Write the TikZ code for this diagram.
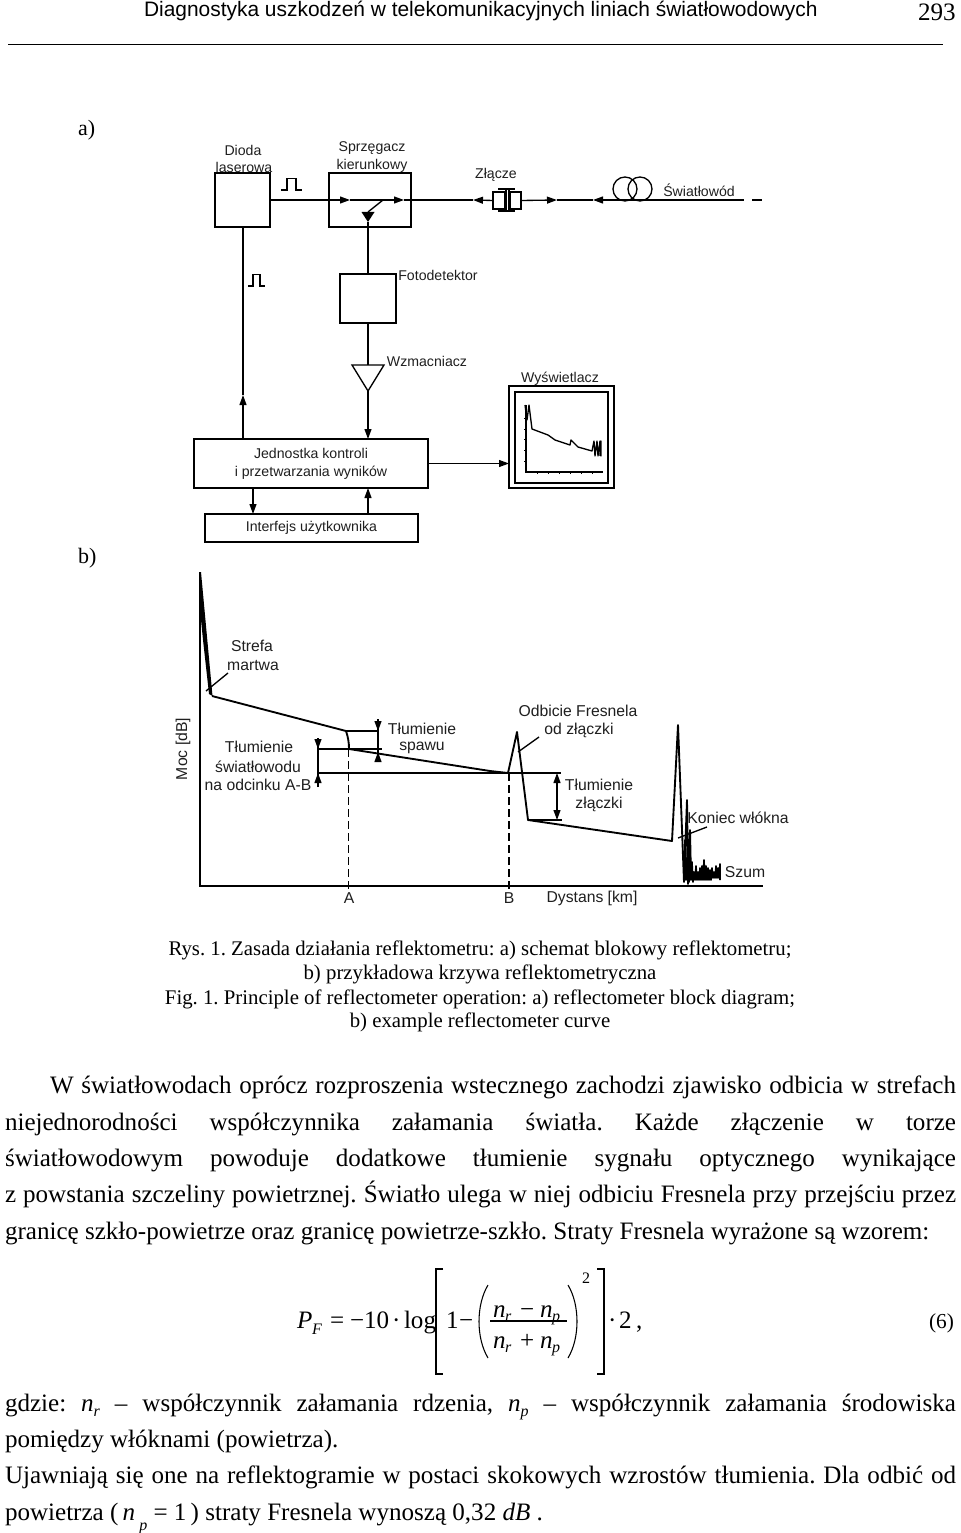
\documentclass[tikz,border=0pt]{standalone}
\usepackage{fontspec}
\setmainfont{Liberation Serif}
\setsansfont{Liberation Sans}
\usetikzlibrary{arrows.meta}
\frenchspacing
\newcommand{\bodyfont}{\fontsize{18.8}{22}\selectfont}
\newcommand{\capfont}{\fontsize{15.6}{18}\selectfont}
\newcommand{\lblfont}{\fontsize{10.6}{12.5}\selectfont\sffamily}
\newcommand{\lblbfont}{\fontsize{11.8}{14}\selectfont\sffamily}
\newcommand{\idxfont}{\fontsize{12}{13}\selectfont}
\newcommand{\bodyline}[5]{\node[plaintext,font=\bodyfont] (#1) at (#2,#3) {\makebox[\dimexpr #4pt*3/4\relax][s]{#5}};}
\newcommand{\plainline}[4]{\node[plaintext,font=\bodyfont] (#1) at (#2,#3) {#4};}
\newcommand{\capline}[3]{\node[anchor=base,inner sep=0pt,font=\capfont] (#1) at (480,#2) {#3};}
\newcommand{\lowidx}[1]{\raisebox{-0.22em}{\idxfont\textit{#1}}}
\tikzset{
 x=0.75pt,y=-0.75pt,
 plaintext/.style={anchor=base west,inner sep=0pt,outer sep=0pt},
 lbl/.style={inner sep=0pt,font=\lblfont,text=black!88},
 lblb/.style={inner sep=0pt,font=\lblbfont,text=black!88},
 blockbox/.style={draw,line width=1pt,inner sep=0pt,outer sep=0pt,fill=white},
 wire/.style={line width=1pt},
 tip/.style={line width=1pt,-{Triangle[length=7.5pt,width=5.2pt]}},
 curve/.style={line width=1.4pt,line join=round},
 thin wire/.style={line width=0.8pt},
}
\begin{document}
\begin{tikzpicture}
\useasboundingbox[fill=white] (0,0) rectangle (960,1533);
% header
\node[plaintext,font=\fontsize{15.7}{18}\selectfont\sffamily] (hdr) at (144,17) {Diagnostyka uszkodzeń w telekomunikacyjnych liniach światłowodowych};
\node[plaintext,font=\bodyfont] (pageno) at (918,21) {293};
\coordinate (ruleA) at (8,44); \coordinate (ruleB) at (943,44);
\draw[line width=0.6pt] (ruleA) -- (ruleB);
\node[plaintext,font=\fontsize{16.5}{18}\selectfont] (la) at (78,136) {a)};
\node[plaintext,font=\fontsize{16.5}{18}\selectfont] (lb) at (78,563) {b)};

% ---- block diagram a)
\node[blockbox,minimum width=41.25pt,minimum height=40.5pt] (dioda) at (242.5,200) {};
\node[blockbox,minimum width=61.5pt,minimum height=40.5pt] (sprz) at (370,200) {};
\node[blockbox,minimum width=42pt,minimum height=36.75pt] (foto) at (368,298.5) {};
\node[blockbox,minimum width=175.5pt,minimum height=36.75pt,align=center,font=\lblfont,text=black!88] (jedn) at (311,463.5) {Jednostka kontroli\\[1pt]i przetwarzania wyników};
\node[blockbox,minimum width=159.75pt,minimum height=21pt,font=\lblfont,text=black!88] (inter) at (311.5,528) {Interfejs użytkownika};
\node[blockbox,minimum width=78.75pt,minimum height=76.5pt] (disp) at (561.5,437) {};
\node[blockbox,minimum width=69.75pt,minimum height=68.25pt] (dispin) at (561.5,437.5) {};
\coordinate (wzTL) at (352,365); \coordinate (wzTR) at (384,365); \coordinate (wzTip) at (368,391); \coordinate (wzTop) at (368,365);
\draw[wire,line join=miter] (wzTL) -- (wzTR) -- (wzTip) -- cycle;

\node[lbl] (t1) at (243,150) {Dioda};
\node[lbl] (t2) at (244,167) {laserowa};
\node[lbl] (t3) at (372,148) {Sprzęgacz};
\node[lbl] (t4) at (372,166) {kierunkowy};
\node[lbl] (t5) at (496,175) {Złącze};
\node[lbl] (t6) at (699,190) {Światłowód};
\node[lbl] (t7) at (438,275) {Fotodetektor};
\node[lbl] (t8) at (427,361) {Wzmacniacz};
\node[lbl] (t9) at (560,379) {Wyświetlacz};

% main fibre line
\coordinate (mA) at (350,200); \coordinate (swR) at (383,200);
\coordinate (mB) at (404,200); \coordinate (mC) at (473,200);
\node[blockbox,minimum width=9pt,minimum height=12.75pt] (zl1) at (499,200.5) {};
\node[blockbox,minimum width=8.25pt,minimum height=12.75pt] (zl2) at (515.5,200.5) {};
\coordinate (mD) at (557,200); \coordinate (mE) at (593,200); \coordinate (mF) at (735,200); \coordinate (mG) at (767,200);
\draw[tip] (dioda.east) -- (mA);
\draw[tip] (mA) -- (mB);
\draw[wire] (mB) -- (sprz.east) -- (mC);
\draw[tip] (zl1.west) -- (mC);
\draw[tip] (zl2.east) -- (mD);
\draw[wire] (mD) -- (mE);
\draw[tip] (mF) -- (mE);
\draw[line width=0.8pt,dash pattern=on 7pt off 6pt] (mF) -- (mG);
% connector body
\coordinate (hA) at (498,189); \coordinate (hB) at (515,189); \coordinate (hC) at (498,211); \coordinate (hD) at (515,211);
\coordinate (vA) at (506,189); \coordinate (vB) at (506,211); \coordinate (vC) at (509,189); \coordinate (vD) at (509,211);
\draw[wire] (hA) -- (hB) (hC) -- (hD) (vA) -- (vB) (vC) -- (vD);
% coil
\draw[wire] (625,189) circle (12);
\draw[wire] (640,189) circle (12);
% switch and detector
\coordinate (swL) at (368,212); \coordinate (swT) at (368,222);
\draw[wire] (swR) -- (swL);
\draw[wire] (foto.north) -- (swT);
\fill (361.5,212) -- (374.5,212) -- (368,222) -- cycle;
\draw[wire] (foto.south) -- (wzTop);
% lower connectors
\coordinate (upTip) at (243,395);
\draw[tip] (jedn.north -| upTip) -- (upTip);
\draw[wire] (upTip) -- (dioda.south -| upTip);
\draw[tip] (wzTip) -- (jedn.north -| wzTip);
\coordinate (d1) at (253,514); \coordinate (d2) at (368,488);
\draw[tip] (jedn.south -| d1) -- (d1);
\draw[tip] (inter.north -| d2) -- (d2);
\draw[tip] (jedn.east) -- (disp.west |- jedn.east);
% pulses
\draw[thin wire] (281,190) -- (287,190) -- (287,178.5) -- (296,178.5) -- (296,190) -- (302,190);
\draw[thin wire] (248,286) -- (253,286) -- (253,274.5) -- (260,274.5) -- (260,286) -- (265,286);
% display plot
\draw[thin wire] (526,405) -- (526,472) -- (603,472);
\foreach \yy in {418,429,439,450,461} \draw[line width=0.6pt] (524,\yy) -- (526,\yy);
\foreach \xx in {537,548,559,570,581,592} \draw[line width=0.6pt] (\xx,472) -- (\xx,474);
\draw[line width=1pt,line join=round] (525,405) -- (527,420) -- (529,405) -- (532,429) -- (548,435) -- (555,440) -- (570,445) -- (571,440) -- (578,447) -- (592,451) -- (594,441) -- (595,456) -- (597,441) -- (598,456) -- (600,441) -- (601,456) -- (601,441) -- (600,456);

% ---- curve b)
\coordinate (ax0) at (200,886); \coordinate (axT) at (200,572); \coordinate (axR) at (763,886);
\draw[line width=1.2pt] (axT) -- (ax0) -- (axR);
\fill (199.5,572) -- (201,572) -- (212.5,696) -- (209,694) -- (203,640) -- (200,610) -- cycle;
\draw[curve] (212,696) -- (346,731) .. controls (348,737) and (349,742) .. (349,749) -- (490,771) -- (508,773) -- (517,732) -- (528,820) -- (672,841) -- (678,725) -- (684,882) -- (687,800) -- (688,884) -- (690,830) -- (691,880);
\draw[line width=1.2pt,line join=round] (684,882) -- (685,840) -- (686,880) -- (688,845) -- (689,882) -- (690,850) -- (691,880) -- (692,862) -- (693,882) -- (694,872) -- (695,880) -- (696,866) -- (697,880) -- (698,872) -- (699,880) -- (700,868) -- (701,880) -- (702,866) -- (703,880) -- (704,860) -- (705,880) -- (706,866) -- (707,880) -- (708,868) -- (709,880) -- (710,870) -- (711,880) -- (712,868) -- (713,878) -- (714,872) -- (715,878) -- (716,866) -- (717,878) -- (718,868) -- (719,878) -- (720,864) -- (720,880);
% levels
\coordinate (sp1) at (346,731); \coordinate (sp2) at (378,731);
\coordinate (sp3) at (318,749); \coordinate (sp4) at (382,749);
\coordinate (sp5) at (318,773); \coordinate (sp6) at (508,773);
\draw[wire] (sp1) -- (sp2) (sp3) -- (sp4) (sp5) -- (sp6);
\coordinate (a1) at (318,738); \coordinate (a2) at (318,787);
\coordinate (b1) at (378,719); \coordinate (b2) at (378,761);
\draw[wire] (a1) -- (a2);
\draw[wire] (b1) -- (b2);
\draw[tip] (a1) -- (sp3);
\draw[tip] (a2) -- (sp5);
\draw[tip] (b1) -- (sp2);
\coordinate (b3) at (378,752);
\draw[tip] (b2) -- (b3);
% dashed verticals
\coordinate (dA) at (348.5,749); \coordinate (dAb) at (348.5,889);
\coordinate (dB) at (509,773); \coordinate (dBb) at (509,889);
\draw[line width=0.8pt,dash pattern=on 6pt off 3pt] (dA) -- (dAb);
\draw[line width=0.8pt,dash pattern=on 6pt off 3pt] (dB) -- (dBb);
% leaders
\draw[wire] (206,691) -- (228,673);
\draw[wire] (518,752) -- (539,737);
\draw[wire] (678,838) -- (707,827);
% junction loss
\coordinate (z1) at (508,773); \coordinate (z2) at (561,773); \coordinate (z3) at (528,820); \coordinate (z4) at (562,820);
\coordinate (zu) at (557,773); \coordinate (zd) at (557,820); \coordinate (zm) at (557,796);
\draw[wire] (z1) -- (z2) (z3) -- (z4);
\draw[tip] (zm) -- (zu);
\draw[tip] (zm) -- (zd);
% labels b)
\node[lblb] (s1) at (252,646) {Strefa};
\node[lblb] (s2) at (253,665) {martwa};
\node[lblb] (s3) at (422,729) {Tłumienie};
\node[lblb] (s4) at (422,748) {spawu};
\node[lblb] (s5) at (259,747) {Tłumienie};
\node[lblb] (s6) at (258,767) {światłowodu};
\node[lblb] (s7) at (258,785) {na odcinku A-B};
\node[lblb,rotate=90] (s8) at (183,749) {Moc [dB]};
\node[lblb] (s9) at (349,898) {A};
\node[lblb] (s10) at (509,898) {B};
\node[lblb] (s11) at (592,898) {Dystans [km]};
\node[lblb] (s12) at (745,872) {Szum};
\node[lblb] (s13) at (738,818) {Koniec włókna};
\node[lblb] (s14) at (578,711) {Odbicie Fresnela};
\node[lblb] (s15) at (579,730) {od złączki};
\node[lblb] (s16) at (599,785) {Tłumienie};
\node[lblb] (s17) at (599,804) {złączki};

% ---- captions
\capline{c1}{955}{Rys. 1. Zasada działania reflektometru: a) schemat blokowy reflektometru;}
\capline{c2}{979}{b) przykładowa krzywa reflektometryczna}
\capline{c3}{1004}{Fig. 1. Principle of reflectometer operation: a) reflectometer block diagram;}
\capline{c4}{1027}{b) example reflectometer curve}

% ---- body
\bodyline{b1}{50}{1093}{906}{W światłowodach oprócz rozproszenia wstecznego zachodzi zjawisko odbicia w strefach}
\bodyline{b2}{5}{1130}{951}{niejednorodności współczynnika załamania światła. Każde złączenie w torze}
\bodyline{b3}{5}{1166}{951}{światłowodowym powoduje dodatkowe tłumienie sygnału optycznego wynikające}
\bodyline{b4}{5}{1202}{951}{z powstania szczeliny powietrznej. Światło ulega w niej odbiciu Fresnela przy przejściu przez}
\plainline{b5}{5}{1239}{granicę szkło-powietrze oraz granicę powietrze-szkło. Straty Fresnela wyrażone są wzorem:}
\bodyline{b6}{5}{1411}{951}{gdzie: \textit{n}\lowidx{r} – współczynnik załamania rdzenia, \textit{n}\lowidx{p} – współczynnik załamania środowiska}
\plainline{b7}{5}{1447}{pomiędzy włóknami (powietrza).}
\bodyline{b8}{5}{1483}{951}{Ujawniają się one na reflektogramie w postaci skokowych wzrostów tłumienia. Dla odbić od}
\plainline{b9}{5}{1520}{powietrza (\,\textit{n}\,\raisebox{-0.4em}{\idxfont\textit{p}} = 1\,) straty Fresnela wynoszą 0,32 \textit{dB} .}

% ---- formula
\plainline{f1}{297}{1328}{\textit{P}}
\node[plaintext,font=\idxfont\itshape] (f2) at (312,1334) {F};
\plainline{f3}{330}{1328}{=}
\plainline{f4}{350}{1328}{−10}
\plainline{f5}{392}{1328}{·}
\plainline{f6}{404}{1328}{log}
\plainline{f7}{446}{1328}{1}
\plainline{f8}{459}{1328}{−}
\plainline{f9}{493}{1317}{\textit{n}}
\node[plaintext,font=\idxfont\itshape] (f10) at (505,1321) {r};
\plainline{f11}{520}{1317}{−}
\plainline{f12}{540}{1317}{\textit{n}}
\node[plaintext,font=\idxfont\itshape] (f13) at (552,1321) {p};
\plainline{f14}{493}{1348}{\textit{n}}
\node[plaintext,font=\idxfont\itshape] (f15) at (505,1352) {r};
\plainline{f16}{520}{1348}{+}
\plainline{f17}{540}{1348}{\textit{n}}
\node[plaintext,font=\idxfont\itshape] (f18) at (552,1352) {p};
\node[plaintext,font=\idxfont] (f19) at (582,1283) {2};
\plainline{f20}{608}{1328}{·}
\plainline{f21}{619}{1328}{2}
\plainline{f22}{636}{1328}{,}
\node[plaintext,font=\fontsize{16}{18}\selectfont] (f23) at (929,1328) {(6)};
\draw[line width=0.8pt] (490,1321) -- (567,1321);
\draw[line width=0.9pt] (443,1269) -- (436,1269) -- (436,1374) -- (443,1374);
\draw[line width=0.9pt] (597,1269) -- (604,1269) -- (604,1374) -- (597,1374);
\draw[line width=0.8pt] (488,1285) .. controls (476,1305) and (476,1338) .. (488,1358);
\draw[line width=0.8pt] (568,1285) .. controls (580,1305) and (580,1338) .. (568,1358);
\end{tikzpicture}
\end{document}
